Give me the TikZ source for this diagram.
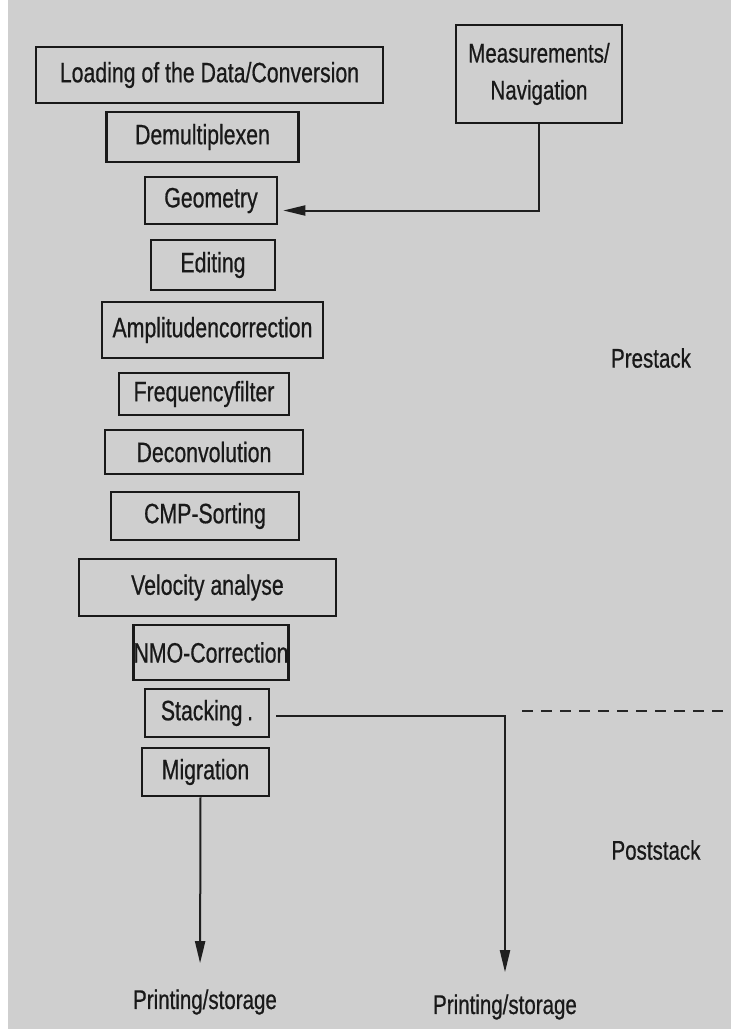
\documentclass[tikz,border=0pt]{standalone}
\usepackage{fontspec}
\setmainfont[FakeStretch=0.76,FakeBold=0.6]{Liberation Sans}
\usetikzlibrary{arrows.meta}
\begin{document}
\begin{tikzpicture}[x=1pt,y=-1pt,
  box/.style={draw=black!90,line width=2.6pt,inner sep=0pt,text=black!90,
    font=\fontsize{28}{36}\selectfont},
  lbl/.style={inner sep=0pt,text=black!90,font=\fontsize{27}{32}\selectfont},
  conn/.style={draw=black!88,line width=2pt},
  arr/.style={conn,-{Triangle[length=22pt,width=10pt]}},
  dash line/.style={draw=black!85,line width=2pt,dash pattern=on 11pt off 8pt}]
\useasboundingbox (0,0) rectangle (731,1029);
\fill[black!19] (0,0) rectangle (731,1029);
\fill[white] (0,0) rectangle (8,1029);

\node[box,minimum width=347pt,minimum height=56pt] (load) at (209.5,75) {Loading of the Data/Conversion};
\node[box,minimum width=166pt,minimum height=98pt,align=center,
  font=\fontsize{27}{37}\selectfont] (meas) at (539,74) {Measurements/\\Navigation};
\node[box,minimum width=192pt,minimum height=50pt] (demu) at (202.5,137) {Demultiplexen};
\node[box,minimum width=132pt,minimum height=47pt] (geo) at (211,200.5) {Geometry};
\node[box,minimum width=124pt,minimum height=50pt] (edit) at (213,265) {Editing};
\node[box,minimum width=221pt,minimum height=56pt] (ampl) at (212.5,330) {Amplitudencorrection};
\node[box,minimum width=170pt,minimum height=42pt] (freq) at (204,394) {Frequencyfilter};
\node[box,minimum width=198pt,minimum height=44pt] (deco) at (204,452) {Deconvolution};
\node[box,minimum width=188pt,minimum height=48pt] (cmp) at (205,516) {CMP-Sorting};
\node[box,minimum width=257pt,minimum height=57pt] (velo) at (207.5,587.5) {Velocity analyse};
\node[box,minimum width=152pt,minimum height=55pt] (nmo) at (211,652.5) {NMO-Correction};
\node[box,minimum width=124pt,minimum height=48pt] (stack) at (207,713) {Stacking\,.};
\node[box,minimum width=127pt,minimum height=48pt] (mig) at (205.5,772) {Migration};

\node[lbl] (print1) at (205,1002) {Printing/storage};
\node[lbl] (print2) at (505,1007) {Printing/storage};
\node[lbl] (pre) at (651,358) {Prestack};
\node[lbl] (post) at (656,850) {Poststack};

\coordinate (d1) at (522,711);
\coordinate (d2) at (731,711);

\draw[arr,shorten >=5pt] (meas.south) |- ([yshift=-10pt]geo.east);
\draw[arr,shorten >=22pt] ([xshift=6pt,yshift=-3pt]stack.east) -| (print2.north);
\draw[arr,shorten >=26pt] ([xshift=-5pt]mig.south) -- ([xshift=-5pt]print1.north);
\draw[dash line] (d1) -- (d2);
\end{tikzpicture}
\end{document}
